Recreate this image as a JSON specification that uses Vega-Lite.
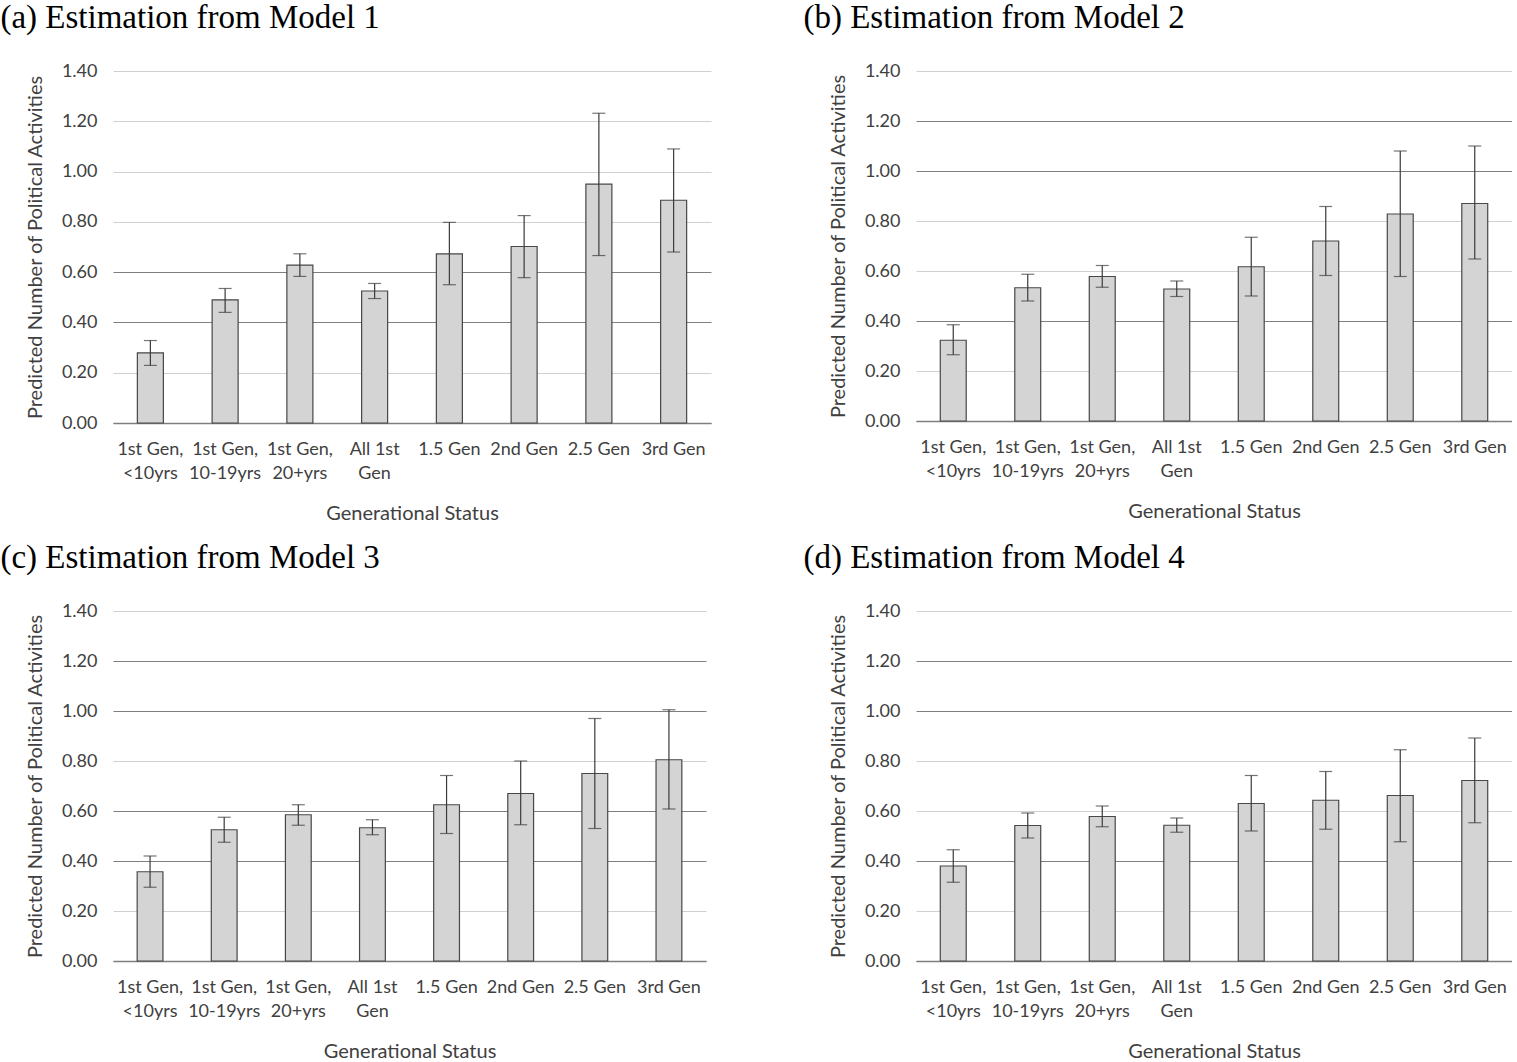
{
  "$schema": "https://vega.github.io/schema/vega-lite/v6.json",
  "padding": {"left": 0, "top": 2, "right": 0, "bottom": 0},
  "background": "white",
  "datasets": {
    "est": [
      {"model": "a", "status": "1st Gen, <10yrs", "mean": 0.279, "lo": 0.229, "hi": 0.328},
      {"model": "a", "status": "1st Gen, 10-19yrs", "mean": 0.49, "lo": 0.44, "hi": 0.535},
      {"model": "a", "status": "1st Gen, 20+yrs", "mean": 0.628, "lo": 0.583, "hi": 0.673},
      {"model": "a", "status": "All 1st Gen", "mean": 0.525, "lo": 0.495, "hi": 0.555},
      {"model": "a", "status": "1.5 Gen", "mean": 0.673, "lo": 0.55, "hi": 0.798},
      {"model": "a", "status": "2nd Gen", "mean": 0.702, "lo": 0.578, "hi": 0.825},
      {"model": "a", "status": "2.5 Gen", "mean": 0.95, "lo": 0.666, "hi": 1.232},
      {"model": "a", "status": "3rd Gen", "mean": 0.886, "lo": 0.68, "hi": 1.09},
      {"model": "b", "status": "1st Gen, <10yrs", "mean": 0.323, "lo": 0.265, "hi": 0.385},
      {"model": "b", "status": "1st Gen, 10-19yrs", "mean": 0.533, "lo": 0.48, "hi": 0.587},
      {"model": "b", "status": "1st Gen, 20+yrs", "mean": 0.578, "lo": 0.535, "hi": 0.622},
      {"model": "b", "status": "All 1st Gen", "mean": 0.528, "lo": 0.498, "hi": 0.56},
      {"model": "b", "status": "1.5 Gen", "mean": 0.617, "lo": 0.5, "hi": 0.735},
      {"model": "b", "status": "2nd Gen", "mean": 0.72, "lo": 0.582, "hi": 0.858},
      {"model": "b", "status": "2.5 Gen", "mean": 0.828, "lo": 0.578, "hi": 1.08},
      {"model": "b", "status": "3rd Gen", "mean": 0.87, "lo": 0.648, "hi": 1.1},
      {"model": "c", "status": "1st Gen, <10yrs", "mean": 0.357, "lo": 0.295, "hi": 0.42},
      {"model": "c", "status": "1st Gen, 10-19yrs", "mean": 0.525, "lo": 0.475, "hi": 0.575},
      {"model": "c", "status": "1st Gen, 20+yrs", "mean": 0.585, "lo": 0.543, "hi": 0.625},
      {"model": "c", "status": "All 1st Gen", "mean": 0.533, "lo": 0.505, "hi": 0.565},
      {"model": "c", "status": "1.5 Gen", "mean": 0.625, "lo": 0.51, "hi": 0.742},
      {"model": "c", "status": "2nd Gen", "mean": 0.67, "lo": 0.545, "hi": 0.8},
      {"model": "c", "status": "2.5 Gen", "mean": 0.75, "lo": 0.53, "hi": 0.97},
      {"model": "c", "status": "3rd Gen", "mean": 0.805, "lo": 0.608, "hi": 1.005},
      {"model": "d", "status": "1st Gen, <10yrs", "mean": 0.38, "lo": 0.315, "hi": 0.445},
      {"model": "d", "status": "1st Gen, 10-19yrs", "mean": 0.542, "lo": 0.492, "hi": 0.592},
      {"model": "d", "status": "1st Gen, 20+yrs", "mean": 0.578, "lo": 0.537, "hi": 0.62},
      {"model": "d", "status": "All 1st Gen", "mean": 0.543, "lo": 0.515, "hi": 0.572},
      {"model": "d", "status": "1.5 Gen", "mean": 0.63, "lo": 0.52, "hi": 0.742},
      {"model": "d", "status": "2nd Gen", "mean": 0.643, "lo": 0.527, "hi": 0.758},
      {"model": "d", "status": "2.5 Gen", "mean": 0.662, "lo": 0.477, "hi": 0.845},
      {"model": "d", "status": "3rd Gen", "mean": 0.722, "lo": 0.553, "hi": 0.892}
    ]
  },
  "config": {
    "view": {"stroke": null},
    "font": "Lato",
    "title": {"font": "Liberation Serif", "fontSize": 33, "fontWeight": "normal", "anchor": "start", "color": "#000000", "frame": "bounds", "dx": -25, "offset": 27},
    "axis": {"labelFont": "Lato", "titleFont": "Lato", "labelColor": "#404040", "titleColor": "#404040", "labelFontSize": 18, "titleFontSize": 20, "titleFontWeight": "normal"},
    "axisX": {"labelAngle": 0, "ticks": false, "domainColor": "#7f7f7f", "domainWidth": 1.3, "labelPadding": 17, "titlePadding": 21, "labelLineHeight": 24, "labelBaseline": "top",
      "labelExpr": "datum.label == 'All 1st Gen' ? ['All 1st', 'Gen'] : (indexof(datum.label, ', ') > 0 ? split(replace(datum.label, ', ', ',|'), '|') : datum.label)"},
    "axisY": {"domain": false, "ticks": false, "labelPadding": 16, "titlePadding": 16, "gridWidth": 1.2}
  },
  "spacing": 19,
  "vconcat": [
    {
      "spacing": 92,
      "hconcat": [
        {
          "title": "(a) Estimation from Model 1",
          "width": 598, "height": 352,
          "data": {"name": "est"},
          "transform": [{"filter": "datum.model == 'a'"}],
          "encoding": {"x": {"field": "status", "type": "nominal", "sort": null, "title": "Generational Status", "scale": {"paddingInner": 0.652, "paddingOuter": 0.326}}},
          "layer": [
            {"mark": {"type": "bar", "fill": "#d4d4d4", "stroke": "#474747", "strokeWidth": 1.2},
             "encoding": {"y": {"field": "mean", "type": "quantitative", "scale": {"domain": [0, 1.4]}, "title": "Predicted Number of Political Activities",
               "axis": {"values": [0, 0.2, 0.4, 0.6, 0.8, 1.0, 1.2, 1.4], "format": ".2f",
                 "gridColor": {"condition": {"test": "abs(datum.value - 0.4) < 0.01 || abs(datum.value - 0.6) < 0.01 || datum.value < 0.01", "value": "#7f7f7f"}, "value": "#d0d0d0"}}}}},
            {"mark": {"type": "rule", "color": "#3a3a3a", "strokeWidth": 1.2}, "encoding": {"y": {"field": "lo", "type": "quantitative"}, "y2": {"field": "hi"}}},
            {"mark": {"type": "tick", "color": "#3a3a3a", "size": 13, "thickness": 1.2}, "encoding": {"y": {"field": "lo", "type": "quantitative"}}},
            {"mark": {"type": "tick", "color": "#3a3a3a", "size": 13, "thickness": 1.2}, "encoding": {"y": {"field": "hi", "type": "quantitative"}}}
          ]
        },
        {
          "title": "(b) Estimation from Model 2",
          "width": 596, "height": 350,
          "data": {"name": "est"},
          "transform": [{"filter": "datum.model == 'b'"}],
          "encoding": {"x": {"field": "status", "type": "nominal", "sort": null, "title": "Generational Status", "scale": {"paddingInner": 0.652, "paddingOuter": 0.326}}},
          "layer": [
            {"mark": {"type": "bar", "fill": "#d4d4d4", "stroke": "#474747", "strokeWidth": 1.2},
             "encoding": {"y": {"field": "mean", "type": "quantitative", "scale": {"domain": [0, 1.4]}, "title": "Predicted Number of Political Activities",
               "axis": {"values": [0, 0.2, 0.4, 0.6, 0.8, 1.0, 1.2, 1.4], "format": ".2f",
                 "gridColor": {"condition": {"test": "abs(datum.value - 0.4) < 0.01 || abs(datum.value - 1.0) < 0.01 || abs(datum.value - 1.2) < 0.01 || datum.value < 0.01", "value": "#7f7f7f"}, "value": "#d0d0d0"}}}}},
            {"mark": {"type": "rule", "color": "#3a3a3a", "strokeWidth": 1.2}, "encoding": {"y": {"field": "lo", "type": "quantitative"}, "y2": {"field": "hi"}}},
            {"mark": {"type": "tick", "color": "#3a3a3a", "size": 13, "thickness": 1.2}, "encoding": {"y": {"field": "lo", "type": "quantitative"}}},
            {"mark": {"type": "tick", "color": "#3a3a3a", "size": 13, "thickness": 1.2}, "encoding": {"y": {"field": "hi", "type": "quantitative"}}}
          ]
        }
      ]
    },
    {
      "spacing": 97,
      "hconcat": [
        {
          "title": "(c) Estimation from Model 3",
          "width": 593, "height": 350,
          "data": {"name": "est"},
          "transform": [{"filter": "datum.model == 'c'"}],
          "encoding": {"x": {"field": "status", "type": "nominal", "sort": null, "title": "Generational Status", "scale": {"paddingInner": 0.652, "paddingOuter": 0.326}}},
          "layer": [
            {"mark": {"type": "bar", "fill": "#d4d4d4", "stroke": "#474747", "strokeWidth": 1.2},
             "encoding": {"y": {"field": "mean", "type": "quantitative", "scale": {"domain": [0, 1.4]}, "title": "Predicted Number of Political Activities",
               "axis": {"values": [0, 0.2, 0.4, 0.6, 0.8, 1.0, 1.2, 1.4], "format": ".2f",
                 "gridColor": {"condition": {"test": "abs(datum.value - 0.4) < 0.01 || abs(datum.value - 0.6) < 0.01 || abs(datum.value - 1.0) < 0.01 || abs(datum.value - 1.2) < 0.01 || datum.value < 0.01", "value": "#7f7f7f"}, "value": "#d0d0d0"}}}}},
            {"mark": {"type": "rule", "color": "#3a3a3a", "strokeWidth": 1.2}, "encoding": {"y": {"field": "lo", "type": "quantitative"}, "y2": {"field": "hi"}}},
            {"mark": {"type": "tick", "color": "#3a3a3a", "size": 13, "thickness": 1.2}, "encoding": {"y": {"field": "lo", "type": "quantitative"}}},
            {"mark": {"type": "tick", "color": "#3a3a3a", "size": 13, "thickness": 1.2}, "encoding": {"y": {"field": "hi", "type": "quantitative"}}}
          ]
        },
        {
          "title": "(d) Estimation from Model 4",
          "width": 596, "height": 350,
          "data": {"name": "est"},
          "transform": [{"filter": "datum.model == 'd'"}],
          "encoding": {"x": {"field": "status", "type": "nominal", "sort": null, "title": "Generational Status", "scale": {"paddingInner": 0.652, "paddingOuter": 0.326}}},
          "layer": [
            {"mark": {"type": "bar", "fill": "#d4d4d4", "stroke": "#474747", "strokeWidth": 1.2},
             "encoding": {"y": {"field": "mean", "type": "quantitative", "scale": {"domain": [0, 1.4]}, "title": "Predicted Number of Political Activities",
               "axis": {"values": [0, 0.2, 0.4, 0.6, 0.8, 1.0, 1.2, 1.4], "format": ".2f",
                 "gridColor": {"condition": {"test": "abs(datum.value - 0.4) < 0.01 || abs(datum.value - 1.0) < 0.01 || abs(datum.value - 1.2) < 0.01 || datum.value < 0.01", "value": "#7f7f7f"}, "value": "#d0d0d0"}}}}},
            {"mark": {"type": "rule", "color": "#3a3a3a", "strokeWidth": 1.2}, "encoding": {"y": {"field": "lo", "type": "quantitative"}, "y2": {"field": "hi"}}},
            {"mark": {"type": "tick", "color": "#3a3a3a", "size": 13, "thickness": 1.2}, "encoding": {"y": {"field": "lo", "type": "quantitative"}}},
            {"mark": {"type": "tick", "color": "#3a3a3a", "size": 13, "thickness": 1.2}, "encoding": {"y": {"field": "hi", "type": "quantitative"}}}
          ]
        }
      ]
    }
  ]
}
